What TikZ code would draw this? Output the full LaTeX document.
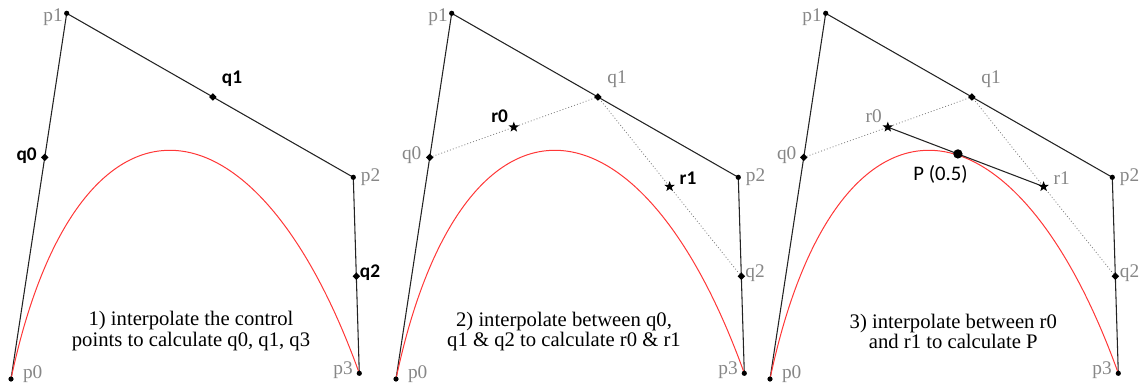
\documentclass[tikz,border=0pt]{standalone}
\usepackage{fontspec}
\setmainfont{Liberation Serif}
\newfontfamily\lblsans{Carlito}
\usetikzlibrary{shapes.geometric,calc,backgrounds}
\definecolor{lblgray}{RGB}{135,135,135}
\definecolor{curvered}{RGB}{255,55,55}
\definecolor{polyline}{RGB}{35,35,35}
\tikzset{
  pdot/.style={circle,fill=black,inner sep=0pt,minimum size=3.9pt},
  qdot/.style={diamond,fill=black,inner sep=0pt,minimum size=5.8pt},
  rstar/.style={star,star points=5,star point ratio=2.4,fill=black,inner sep=0pt,minimum size=8.2pt},
  bigdot/.style={circle,fill=black,inner sep=0pt,minimum size=7pt},
  poly/.style={draw=polyline,line width=0.8pt},
  helper/.style={draw=black!50,dash pattern=on 0.7pt off 1.6pt,line width=0.6pt},
  bez/.style={draw=curvered,line width=0.75pt},
  glab/.style={text=lblgray,font=\fontsize{14.5}{14}\selectfont,inner sep=0pt},
  blab/.style={text=black,font=\lblsans\bfseries\fontsize{14.5}{14}\selectfont,inner sep=0pt},
  plab/.style={text=black,font=\lblsans\fontsize{15.5}{15}\selectfont,inner sep=0pt},
  caption/.style={align=center,font=\fontsize{15.5}{13.8}\selectfont,inner sep=0pt}
}
\newcommand\bzframe[1]{%
  \coordinate (#1c1) at (75,75);
  \coordinate (#1c2) at (252,75);
  \node[pdot] (#1p0) at (11,379) {};
  \node[pdot] (#1p1) at (66.7,13.3) {};
  \node[pdot] (#1p2) at (353.3,177.3) {};
  \node[pdot] (#1p3) at (359.3,373.3) {};
  \node[qdot] (#1q0) at ($(#1p0.center)!0.606!(#1p1.center)$) {};
  \node[qdot] (#1q1) at ($(#1p1.center)!0.51!(#1p2.center)$) {};
  \node[qdot] (#1q2) at ($(#1p2.center)!0.505!(#1p3.center)$) {};
  \begin{scope}[on background layer]
    \draw[poly] (#1p0.center) -- (#1p1.center) -- (#1p2.center) -- (#1p3.center);
    \draw[bez] (#1p0.center) .. controls (#1c1) and (#1c2) .. (#1p3.center);
  \end{scope}
  \node[glab] (#1lp0) at (32.7,374) {p0};
  \node[glab] (#1lp1) at (53,17.5) {p1};
  \node[glab] (#1lp2) at (370.5,177) {p2};
  \node[glab] (#1lp3) at (343,370) {p3};
}
\begin{document}
\begin{tikzpicture}[x={(0.75pt,0pt)},y={(0pt,-0.75pt)}]
\useasboundingbox (0,0) rectangle (1147,387);
% ---------- panel 1
\begin{scope}
  \bzframe{a}
  \node[blab] (alq0) at (26.7,155.5) {q0};
  \node[blab] (alq1) at (232,79) {q1};
  \node[blab] (alq2) at (370,273) {q2};
  \node[caption] (acap) at (191,331) {1) interpolate the control\\points to calculate q0, q1, q3};
\end{scope}
% ---------- panel 2
\begin{scope}[shift={(385,0)}]
  \bzframe{b}
  \node[rstar] (br0) at ($(bq0.center)!0.5!(bq1.center)$) {};
  \node[rstar] (br1) at ($(bq1.center)!0.5!(bq2.center)$) {};
  \begin{scope}[on background layer]
    \draw[helper] (bq0.center) -- (bq1.center) -- (bq2.center);
  \end{scope}
  \node[glab] (blq0) at (26.7,155.5) {q0};
  \node[glab] (blq1) at (232,79) {q1};
  \node[glab] (blq2) at (370,273) {q2};
  \node[blab] (blr0) at (114.7,116.5) {r0};
  \node[blab] (blr1) at (303,178) {r1};
  \node[caption] (bcap) at (179,331.5) {2) interpolate between q0,\\q1 \& q2 to calculate r0 \& r1};
\end{scope}
% ---------- panel 3
\begin{scope}[shift={(759,0)}]
  \bzframe{c}
  \node[rstar] (cr0) at ($(cq0.center)!0.5!(cq1.center)$) {};
  \node[rstar] (cr1) at ($(cq1.center)!0.5!(cq2.center)$) {};
  \node[bigdot] (cP) at ($(cr0.center)!0.45!(cr1.center)$) {};
  \begin{scope}[on background layer]
    \draw[helper] (cq0.center) -- (cq1.center) -- (cq2.center);
    \draw[poly] (cr0.center) -- (cr1.center);
  \end{scope}
  \node[glab] (clq0) at (27.7,155.5) {q0};
  \node[glab] (clq1) at (232,79) {q1};
  \node[glab] (clq2) at (370.5,273) {q2};
  \node[glab] (clr0) at (114.7,116.5) {r0};
  \node[glab] (clr1) at (302.7,178) {r1};
  \node[plab] (clP) at (181.5,174) {P (0.5)};
  \node[caption] (ccap) at (194.3,331.5) {3) interpolate between r0\\and r1 to calculate P};
\end{scope}
\end{tikzpicture}
\end{document}
